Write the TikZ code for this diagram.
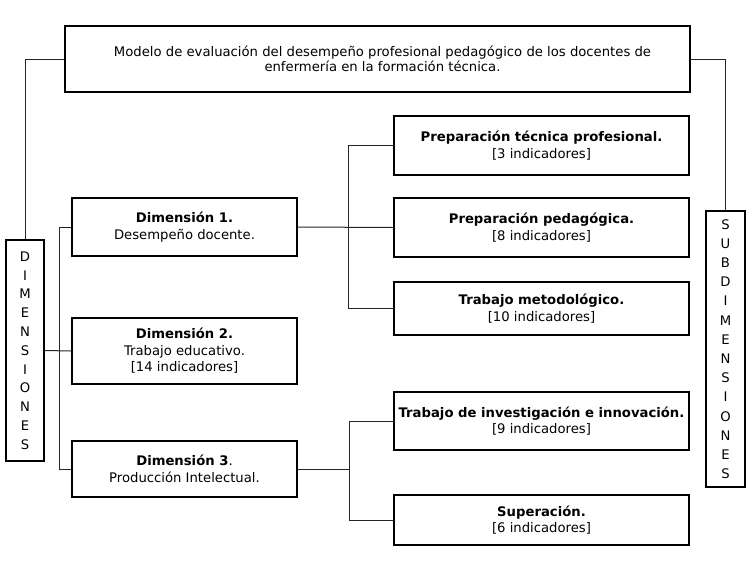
\documentclass[tikz,border=0pt]{standalone}
\usepackage{fontspec}
\setmainfont{DejaVu Sans}
\usetikzlibrary{calc}
\begin{document}
\begin{tikzpicture}[x=0.75pt,y=-0.75pt,
  box/.style={draw=black,line width=1.5pt,fill=white,inner sep=0pt,align=center,
    font=\fontsize{9.9}{12.4}\selectfont},
  vbox/.style={draw=black,line width=1.5pt,fill=white,inner sep=0pt,align=center},
  conn/.style={draw=black!85,line width=0.75pt}]
\useasboundingbox (0,0) rectangle (750,565);
\fill[white] (0,0) rectangle (750,565);

\node[box,line width=1.2pt,minimum width=625*0.75pt,minimum height=66*0.75pt,
  font=\fontsize{9.9}{9.8}\selectfont] (title) at (377.5,59)
  {\hspace*{7.5pt}Modelo de evaluación del desempeño profesional pedagógico de los docentes de\\\hspace*{7.5pt}enfermería en la formación técnica.};

\node[vbox,minimum width=38*0.75pt,minimum height=221*0.75pt,
  font=\fontsize{9.9}{14.1}\selectfont] (dimv) at (25,350.5)
  {D\\I\\M\\E\\N\\S\\I\\O\\N\\E\\S};
\node[vbox,minimum width=39*0.75pt,minimum height=276*0.75pt,
  font=\fontsize{9.9}{14.4}\selectfont] (subv) at (725.5,349)
  {S\\U\\B\\D\\I\\M\\E\\N\\S\\I\\O\\N\\E\\S};

\node[box,minimum width=225*0.75pt,minimum height=58*0.75pt] (dim1) at (184.5,227)
  {\textbf{Dimensión 1.}\\Desempeño docente.};
\node[box,minimum width=225*0.75pt,minimum height=66*0.75pt] (dim2) at (184.5,351)
  {\textbf{Dimensión 2.}\\Trabajo educativo.\\{[14 indicadores]}};
\node[box,minimum width=225*0.75pt,minimum height=56*0.75pt] (dim3) at (184.5,469)
  {\textbf{Dimensión 3}.\\Producción Intelectual.};

\node[box,minimum width=295*0.75pt,minimum height=59*0.75pt] (pt) at (541.5,145.5)
  {\textbf{Preparación técnica profesional.}\\{[3 indicadores]}};
\node[box,minimum width=295*0.75pt,minimum height=59*0.75pt] (pp) at (541.5,227.5)
  {\textbf{Preparación pedagógica.}\\{[8 indicadores]}};
\node[box,minimum width=295*0.75pt,minimum height=53*0.75pt] (tm) at (541.5,308.5)
  {\textbf{Trabajo metodológico.}\\{[10 indicadores]}};
\node[box,minimum width=295*0.75pt,minimum height=58*0.75pt] (ti) at (541.5,421)
  {\textbf{Trabajo de investigación e innovación.}\\{[9 indicadores]}};
\node[box,minimum width=295*0.75pt,minimum height=50*0.75pt] (su) at (541.5,520)
  {\textbf{Superación.}\\{[6 indicadores]}};

\coordinate (br1) at ($(pt.west)+(-45,0)$);
\coordinate (br3) at ($(ti.west)+(-44,0)$);

\draw[conn] (title.west) -| (dimv.north);
\draw[conn] (title.east) -| (subv.north);
\draw[conn] (dimv.east) -- (dim2.west);
\draw[conn] (dim1.west) -- ++(-12,0) |- (dim3.west);
\draw[conn] (dim1.east) -- (pp.west);
\draw[conn] (pt.west) -- (br1) |- (tm.west);
\draw[conn] (dim3.east) -- (dim3.east -| br3);
\draw[conn] (ti.west) -- (br3) |- (su.west);
\end{tikzpicture}
\end{document}
